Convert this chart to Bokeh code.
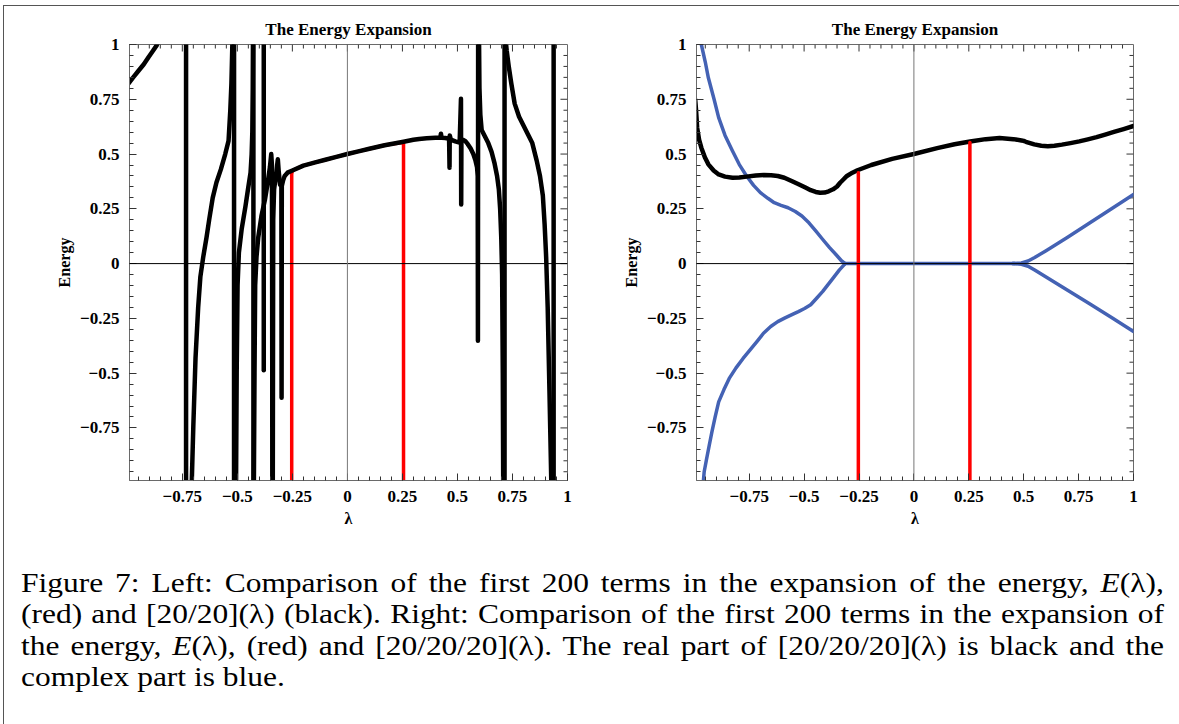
from bokeh.plotting import figure
from bokeh.models import FixedTicker, Range1d, Span, Div
from bokeh.layouts import row, column
from bokeh.embed import file_html
from bokeh.resources import INLINE

FONT = "Liberation Serif"

# ---------------- tick marks ----------------
TICKS = [-0.75, -0.5, -0.25, 0, 0.25, 0.5, 0.75, 1]
TICK_LABELS = ["\u22120.75", "\u22120.5", "\u22120.25", "0", "0.25", "0.5", "0.75", "1"]
MINOR_TICKS = [round(-1 + 0.05 * i, 2) for i in range(41)]

# ---------------- left panel: [20/20](lambda), black ----------------
L_arc_x = [-1.0, -0.975, -0.949, -0.925, -0.903, -0.884, -0.866, -0.855]
L_arc_y = [0.815, 0.848, 0.880, 0.910, 0.943, 0.970, 0.997, 1.03]

L_b1_x = [-0.708, -0.700, -0.690, -0.678, -0.668, -0.655, -0.640, -0.628, -0.612, -0.595, -0.575, -0.555, -0.540, -0.532, -0.527, -0.522]
L_b1_y = [-1.03, -0.74, -0.43, -0.20, -0.06, 0.03, 0.12, 0.20, 0.30, 0.37, 0.43, 0.50, 0.56, 0.70, 0.82, 1.03]

L_b2_x = [-0.506, -0.503, -0.499, -0.493, -0.480, -0.463, -0.450, -0.440, -0.435, -0.432, -0.430, -0.429]
L_b2_y = [-1.03, -0.50, -0.10, 0.05, 0.16, 0.262, 0.35, 0.415, 0.50, 0.60, 0.80, 1.03]

L_b3_x = [-0.425, -0.422, -0.419, -0.413, -0.405, -0.390, -0.375, -0.362, -0.352, -0.346, -0.343, -0.342, -0.341]
L_b3_y = [-1.03, -0.50, -0.10, 0.03, 0.12, 0.22, 0.29, 0.37, 0.44, 0.50, 0.45, 0.0, -1.03]

L_spike_x = [-0.380, -0.380]
L_spike_y = [1.03, -0.487]

L_b4_x = [-0.339, -0.337, -0.333, -0.325, -0.316, -0.312, -0.306, -0.300, -0.299, -0.298]
L_b4_y = [-1.03, 0.20, 0.34, 0.40, 0.476, 0.42, 0.36, 0.36, -0.612, 0.354]

L_main_x = [-0.298, -0.292, -0.285, -0.272, -0.25, -0.2, -0.146, -0.1, -0.05, 0.0, 0.05, 0.1, 0.169, 0.2, 0.255,
            0.3, 0.326, 0.36, 0.40, 0.422, 0.425, 0.428, 0.445, 0.462, 0.464, 0.465, 0.47, 0.49, 0.51, 0.516,
            0.517, 0.518, 0.525, 0.535, 0.547, 0.560, 0.572, 0.582, 0.589, 0.592, 0.593, 0.594]
L_main_y = [0.354, 0.38, 0.40, 0.415, 0.425, 0.447, 0.462, 0.474, 0.487, 0.5, 0.512, 0.524, 0.54, 0.546, 0.556,
            0.565, 0.569, 0.572, 0.574, 0.574, 0.593, 0.574, 0.573, 0.57, 0.438, 0.585, 0.566, 0.558, 0.552, 0.752,
            0.27, 0.556, 0.565, 0.56, 0.545, 0.525, 0.50, 0.47, 0.44, 0.40, -0.352, 1.03]

L_b5_x = [0.598, 0.600, 0.604, 0.610, 0.625, 0.640, 0.655, 0.668, 0.680, 0.688, 0.694, 0.699, 0.703, 0.706, 0.708]
L_b5_y = [1.03, 0.80, 0.68, 0.61, 0.58, 0.55, 0.51, 0.46, 0.40, 0.34, 0.25, 0.12, -0.05, -0.50, -1.03]

L_b6_x = [0.718, 0.724, 0.733, 0.745, 0.760, 0.780, 0.800, 0.820, 0.840, 0.860, 0.875, 0.888, 0.896, 0.903, 0.910, 0.918, 0.927]
L_b6_y = [1.03, 0.97, 0.90, 0.82, 0.73, 0.67, 0.63, 0.59, 0.55, 0.47, 0.40, 0.31, 0.18, 0.03, -0.20, -0.58, -1.03]

L_poles = [-0.733, -0.515, -0.427, 0.714, 0.937]

# ---------------- E(lambda), first 200 terms (red) ----------------
RED_edge_x = [-0.253, 0.255]
RED_edge_top = [0.415, 0.553]
RED_x = [-0.253, -0.25, -0.2, -0.146, -0.1, -0.05, 0.0, 0.05, 0.1, 0.169, 0.2, 0.255]
RED_y = [0.415, 0.425, 0.447, 0.462, 0.474, 0.487, 0.5, 0.512, 0.524, 0.54, 0.546, 0.553]

# ---------------- right panel: [20/20/20](lambda) ----------------
R_re_x = [-0.996, -0.992, -0.987, -0.978, -0.968, -0.952, -0.936, -0.912, -0.889, -0.860, -0.826, -0.795, -0.762,
          -0.720, -0.684, -0.650, -0.620, -0.590, -0.557, -0.525, -0.494, -0.470, -0.447, -0.427, -0.407, -0.388,
          -0.368, -0.350, -0.336, -0.320, -0.305, -0.280, -0.257, -0.194, -0.099, 0.0, 0.106, 0.185, 0.256, 0.327,
          0.390, 0.453, 0.490, 0.500, 0.510, 0.548, 0.580, 0.610, 0.640, 0.674, 0.713, 0.753, 0.792, 0.832, 0.871,
          0.911, 0.955, 1.0]
R_re_y = [0.749, 0.700, 0.620, 0.565, 0.529, 0.485, 0.453, 0.425, 0.407, 0.397, 0.392, 0.393, 0.397,
          0.402, 0.404, 0.403, 0.400, 0.392, 0.377, 0.362, 0.347, 0.335, 0.327, 0.323, 0.324, 0.330,
          0.339, 0.352, 0.369, 0.385, 0.400, 0.415, 0.426, 0.450, 0.478, 0.5, 0.527, 0.545, 0.557, 0.568,
          0.573, 0.568, 0.562, 0.560, 0.556, 0.544, 0.538, 0.536, 0.538, 0.543, 0.550, 0.558, 0.567, 0.577, 0.589,
          0.601, 0.614, 0.628]

R_im_ul_x = [-0.975, -0.968, -0.950, -0.936, -0.910, -0.889, -0.860, -0.826, -0.795, -0.762, -0.730, -0.699, -0.665,
             -0.636, -0.605, -0.573, -0.540, -0.510, -0.478, -0.447, -0.415, -0.384, -0.352, -0.330, -0.313]
R_im_ul_y = [1.03, 1.0, 0.92, 0.848, 0.75, 0.666, 0.585, 0.514, 0.452, 0.40, 0.357, 0.324, 0.298,
             0.278, 0.266, 0.255, 0.238, 0.217, 0.186, 0.149, 0.110, 0.073, 0.038, 0.013, 0.0]

R_im_ll_x = [-0.962, -0.955, -0.944, -0.932, -0.920, -0.905, -0.889, -0.865, -0.841, -0.810, -0.778, -0.745, -0.715,
             -0.685, -0.652, -0.620, -0.589, -0.558, -0.526, -0.498, -0.470, -0.443, -0.415, -0.392, -0.368, -0.340, -0.313]
R_im_ll_y = [-1.03, -0.95, -0.891, -0.83, -0.769, -0.70, -0.631, -0.575, -0.524, -0.476, -0.433, -0.393, -0.356,
             -0.318, -0.287, -0.265, -0.249, -0.234, -0.219, -0.205, -0.188, -0.158, -0.127, -0.097, -0.066, -0.030, 0.0]

R_im_zero_x = [-0.313, 0.46]
R_im_zero_y = [0.0, 0.0]

R_im_ur_x = [0.45, 0.49, 0.52, 0.55, 0.60, 0.70, 0.80, 0.90, 1.0]
R_im_ur_y = [0.0, 0.003, 0.012, 0.028, 0.058, 0.12, 0.185, 0.25, 0.316]

R_im_lr_x = [0.45, 0.49, 0.52, 0.55, 0.60, 0.70, 0.80, 0.90, 1.0]
R_im_lr_y = [0.0, -0.003, -0.012, -0.029, -0.06, -0.122, -0.183, -0.246, -0.31]

CAPTION_LINES = [
    "Figure 7: Left: Comparison of the first 200 terms in the expansion of the energy, <i>E</i>(\u03bb),",
    "(red) and [20/20](\u03bb) (black). Right: Comparison of the first 200 terms in the expansion of",
    "the energy, <i>E</i>(\u03bb), (red) and [20/20/20](\u03bb). The real part of [20/20/20](\u03bb) is black and the",
    "complex part is blue.",
]

BLACK = "#000000"
RED = "#ff0000"
BLUE = "#4462b4"
FRAME = "#6a6a6a"
TICK_COLOR = "#333333"

X_LO, X_HI = -0.99, 1.0
Y_LO, Y_HI = -0.99, 1.0


def make_fig(width, mb_left, mb_right):
    p = figure(width=width, height=534, x_range=Range1d(X_LO, X_HI), y_range=Range1d(Y_LO, Y_HI),
               min_border_left=mb_left, min_border_right=mb_right, min_border_top=38, min_border_bottom=60,
               output_backend="svg", toolbar_location=None, title="The Energy Expansion")
    p.title.align = "center"
    p.title.text_font = FONT
    p.title.text_font_style = "bold"
    p.title.text_font_size = "17px"
    p.title.text_color = "black"
    p.title.standoff = 11
    p.grid.visible = False
    p.outline_line_color = FRAME
    p.outline_line_width = 1
    overrides = {(int(t) if t in (0, 1) else t): lab for t, lab in zip(TICKS, TICK_LABELS)}
    for ax in p.axis:
        ax.ticker = FixedTicker(ticks=TICKS, minor_ticks=MINOR_TICKS)
        ax.axis_line_color = FRAME
        ax.major_tick_in = 7
        ax.major_tick_out = 0
        ax.minor_tick_in = 4
        ax.minor_tick_out = 0
        ax.major_tick_line_color = TICK_COLOR
        ax.minor_tick_line_color = TICK_COLOR
        ax.major_label_text_font = FONT
        ax.major_label_text_font_style = "bold"
        ax.major_label_text_font_size = "17px"
        ax.major_label_text_color = "black"
        ax.major_label_overrides = overrides
        ax.axis_label_text_font = FONT
        ax.axis_label_text_font_style = "bold"
        ax.axis_label_text_font_size = "16px"
        ax.axis_label_text_color = "black"
    p.below[0].axis_label = "\u03bb"
    p.left[0].axis_label = "Energy"
    p.below[0].major_label_standoff = 10
    p.below[0].axis_label_standoff = 5
    p.left[0].major_label_standoff = 10
    p.left[0].axis_label_standoff = 4

    # inward tick marks on the top and right edges of the frame (mirror of the bottom/left ticks)
    tick_len_major = 7 * (Y_HI - Y_LO) / 436.0
    tick_len_minor = 4 * (Y_HI - Y_LO) / 436.0
    minors = [t for t in MINOR_TICKS if t not in TICKS and X_LO < t < X_HI]
    majors = [t for t in TICKS if X_LO < t < X_HI]
    p.segment(x0=majors, y0=[Y_HI] * len(majors), x1=majors, y1=[Y_HI - tick_len_major] * len(majors),
              line_color=TICK_COLOR, line_width=1)
    p.segment(x0=minors, y0=[Y_HI] * len(minors), x1=minors, y1=[Y_HI - tick_len_minor] * len(minors),
              line_color=TICK_COLOR, line_width=1)
    p.segment(x0=[X_HI] * len(majors), y0=majors, x1=[X_HI - tick_len_major] * len(majors), y1=majors,
              line_color=TICK_COLOR, line_width=1)
    p.segment(x0=[X_HI] * len(minors), y0=minors, x1=[X_HI - tick_len_minor] * len(minors), y1=minors,
              line_color=TICK_COLOR, line_width=1)

    p.add_layout(Span(location=0, dimension="width", line_color="black", line_width=1))
    p.add_layout(Span(location=0, dimension="height", line_color="#777777", line_width=1))
    return p


def draw(p, xs, ys, color, width):
    p.line(xs, ys, line_color=color, line_width=width, line_cap="round", line_join="round")


# ---- left figure ----
p1 = make_fig(576, 125, 13)
for ex, top in zip(RED_edge_x, RED_edge_top):
    draw(p1, [ex, ex], [-1.03, top], RED, 3.5)
draw(p1, RED_x, RED_y, RED, 3.5)
for bx, by in [(L_arc_x, L_arc_y), (L_b1_x, L_b1_y), (L_b2_x, L_b2_y), (L_b3_x, L_b3_y),
               (L_spike_x, L_spike_y), (L_b4_x, L_b4_y), (L_main_x, L_main_y), (L_b5_x, L_b5_y),
               (L_b6_x, L_b6_y)]:
    draw(p1, bx, by, BLACK, 4.5)
for pole in L_poles:
    draw(p1, [pole, pole], [1.03, -1.03], BLACK, 4.5)

# ---- right figure ----
p2 = make_fig(595, 116, 42)
draw(p2, R_im_ul_x, R_im_ul_y, BLUE, 3.5)
draw(p2, R_im_ll_x, R_im_ll_y, BLUE, 3.5)
draw(p2, R_im_zero_x, R_im_zero_y, BLUE, 3.5)
draw(p2, R_im_ur_x, R_im_ur_y, BLUE, 3.5)
draw(p2, R_im_lr_x, R_im_lr_y, BLUE, 3.5)
draw(p2, R_re_x, R_re_y, BLACK, 4.5)
for ex, top in zip(RED_edge_x, RED_edge_top):
    draw(p2, [ex, ex], [-1.03, top], RED, 3.5)

SCALE_X = 1.165
line_divs = []
for i, ln in enumerate(CAPTION_LINES):
    last = i == len(CAPTION_LINES) - 1
    align = "text-align:left;" if last else "text-align:justify;text-align-last:justify;"
    line_divs.append("<div style=\"white-space:nowrap;%s\">%s</div>" % (align, ln))
caption_html = (
    "<div style=\"font-family:'Liberation Serif';font-size:27px;line-height:31.3px;"
    "width:%dpx;margin-left:12px;padding-top:23px;color:black;"
    "transform:scaleX(%.3f);transform-origin:0 0;\">" % (round(1143 / SCALE_X), SCALE_X)
    + "".join(line_divs) + "</div>"
)
caption = Div(text=caption_html, width=1171, height=182)

layout = column(row(p1, p2), caption,
                styles={"border-left": "1px solid #555", "border-top": "1px solid #555",
                        "border-right": "1px solid #555", "margin-left": "3px", "margin-top": "5px"})

open("out.html", "w").write(file_html(layout, INLINE))
